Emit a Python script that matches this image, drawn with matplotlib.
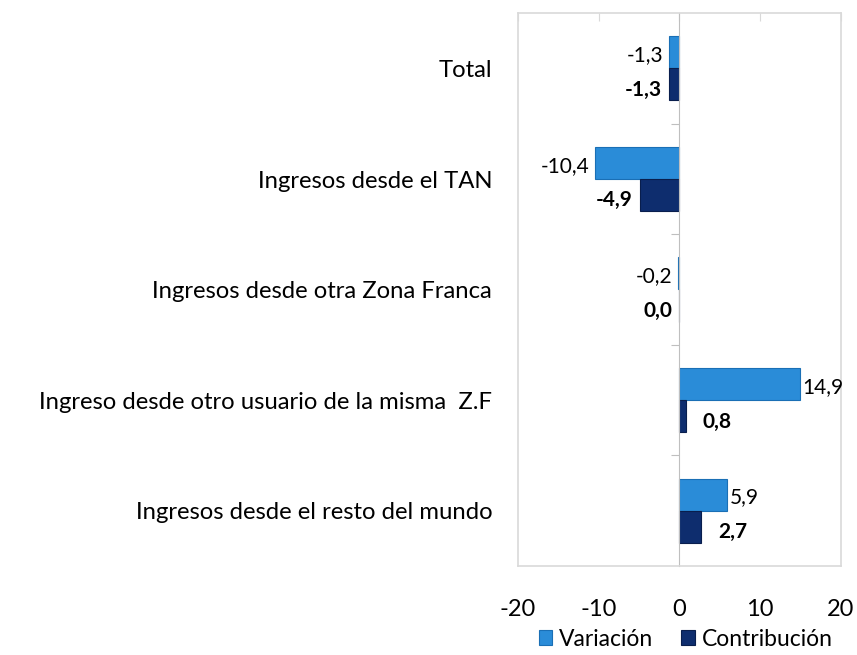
import numpy as np
import matplotlib.pyplot as plt
import matplotlib.transforms as mtransforms

# datos
categorias = ["Total",
              "Ingresos desde el TAN",
              "Ingresos desde otra Zona Franca",
              "Ingreso desde otro usuario de la misma  Z.F",
              "Ingresos desde el resto del mundo"]
variacion = [-1.3, -10.4, -0.2, 14.9, 5.9]
contribucion = [-1.3, -4.9, 0.0, 0.8, 2.7]
xticks = [-20, -10, 0, 10, 20]

plt.rcParams['font.family'] = ['Lato', 'DejaVu Sans']

c_var = '#2A8CD8'
c_con = '#0E2D6E'

fig = plt.figure(figsize=(8.57, 6.55), dpi=100)
ax = fig.add_axes([0.6044, 0.1359, 0.3769, 0.8443])

y = np.arange(len(categorias))[::-1]
h = 0.29
off = 0.145
b1 = ax.barh(y + off, variacion, height=h, color=c_var, edgecolor='#1A6FB5', linewidth=0.8, label='Variación')
b2 = ax.barh(y - off, contribucion, height=h, color=c_con, edgecolor='#091E4D', linewidth=0.8, label='Contribución')


def fmt(v):
    return ("%.1f" % v).replace('.', ',')


fs_dat = 15
for yi, v in zip(y, variacion):
    if v > 0:
        ax.annotate(fmt(v), (v, yi + off), xytext=(2, -2), textcoords='offset points',
                    ha='left', va='center', fontsize=fs_dat)
    else:
        ax.annotate(fmt(v), (v, yi + off), xytext=(-4, -2), textcoords='offset points',
                    ha='right', va='center', fontsize=fs_dat)
for yi, v in zip(y, contribucion):
    if v > 0:
        ax.annotate(fmt(v), (v, yi - off), xytext=(12, -4), textcoords='offset points',
                    ha='left', va='center', fontsize=fs_dat, fontweight='bold')
    else:
        ax.annotate(fmt(v), (v, yi - off), xytext=(-5, -4), textcoords='offset points',
                    ha='right', va='center', fontsize=fs_dat, fontweight='bold')

# etiquetas de categorias
trans = mtransforms.blended_transform_factory(ax.transAxes, ax.transData)
for yi, c in zip(y, categorias):
    ax.text(-0.08, yi - 0.02, c, transform=trans, ha='right', va='center', fontsize=17.2)

ax.set_xlim(-20, 20)
ax.set_ylim(-0.5, len(categorias) - 0.5)
ax.set_xticks(xticks)
ax.set_xticklabels([str(t) for t in xticks], fontsize=17)
ax.tick_params(axis='x', top=True, bottom=False, direction='in', length=6,
               color='#D9D9D9', pad=24)

# eje vertical en cero
ax.spines['left'].set_position(('data', 0))
ax.spines['left'].set_color('#BFBFBF')
for s in ['top', 'right', 'bottom']:
    ax.spines[s].set_color('#D9D9D9')
    ax.spines[s].set_linewidth(1.2)
ax.set_yticks(np.arange(len(categorias) - 1) + 0.5)
ax.set_yticklabels([])
ax.tick_params(axis='y', direction='out', length=6, color='#BFBFBF')
# borde izquierdo del area de grafico
ax.plot([0, 0], [0, 1], transform=ax.transAxes, color='#D9D9D9', lw=1.2, clip_on=False)

fig.legend(handles=[b1, b2], loc='center', bbox_to_anchor=(0.80, 0.024), ncol=2,
           frameon=False, fontsize=16.5, handlelength=0.6, handleheight=0.6,
           handletextpad=0.3, columnspacing=1.2, borderpad=0.1)

fig.savefig('out.png', dpi=100)
